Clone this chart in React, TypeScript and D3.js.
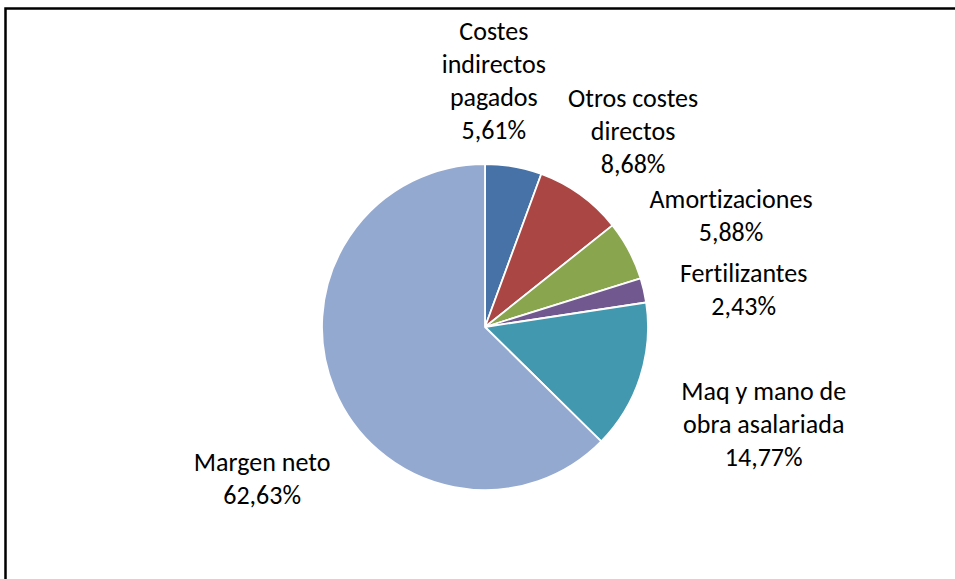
import React, { useEffect, useRef } from "react"
import * as d3 from "d3"

// data
const categories = [
  "Costes\nindirectos\npagados",
  "Otros costes\ndirectos",
  "Amortizaciones",
  "Fertilizantes",
  "Maq y mano de\nobra asalariada",
  "Margen neto",
]
const shares = [5.61, 8.68, 5.88, 2.43, 14.77, 62.63]
const colors = ["#4672A8", "#AA4643", "#89A54E", "#71588F", "#4198AF", "#94A9D0"]

// label nudges (Excel-ish placement tweaks)
const nudges: [number, number][] = [
  [-35, 3],
  [-5, -4],
  [2, -8],
  [5, 12],
  [15, 24],
  [21, 66],
]

const width = 955
const height = 579

export default function App() {
  const ref = useRef<SVGSVGElement>(null)

  useEffect(() => {
    const svg = d3.select(ref.current)
    svg.selectAll("*").remove()

    const cx = 485
    const cy = 327
    const radius = 163
    const lineH = 33
    const gap = 25

    // frame (only top and left edges visible)
    svg.append("path")
      .attr("d", `M5.5,${height} V8.5 H${width}`)
      .attr("fill", "none")
      .attr("stroke", "#000")
      .attr("stroke-width", 2.5)

    const pie = d3.pie<number>().sort(null).value(d => d)
    const arcs = pie(shares)
    const arc = d3.arc<d3.PieArcDatum<number>>().innerRadius(0).outerRadius(radius)

    const g = svg.append("g").attr("transform", `translate(${cx},${cy})`)

    g.selectAll("path.slice")
      .data(arcs)
      .enter()
      .append("path")
      .attr("class", "slice")
      .attr("d", arc)
      .attr("fill", (d, i) => colors[i])
      .attr("stroke", "#fff")
      .attr("stroke-width", 1.8)
      .attr("stroke-linejoin", "round")

    const locale = d3.formatLocale({ decimal: ",", thousands: ".", grouping: [3], currency: ["", "€"] })
    const fmt = locale.format(".2f")

    const labels = g.selectAll("g.label")
      .data(arcs)
      .enter()
      .append("g")
      .attr("class", "label")

    labels.each(function (d, i) {
      const lines = categories[i].split("\n").concat(fmt(shares[i]) + "%")
      const grp = d3.select(this)
      const t = grp.append("text")
        .attr("text-anchor", "middle")
        .attr("font-family", "Carlito, 'Open Sans', sans-serif")
        .attr("font-size", 26)
        .style("font-variant-ligatures", "none")
        .attr("fill", "#000")
      lines.forEach((ln, k) => {
        t.append("tspan")
          .attr("x", 0)
          .attr("y", k * lineH)
          .attr("dy", "0.35em")
          .text(ln)
      })
      const w = 0.9 * (t.node() as SVGTextElement).getBBox().width + 30
      const h = lines.length * lineH
      const mid = (d.startAngle + d.endAngle) / 2
      const s = Math.sin(mid)
      const c = Math.cos(mid)
      const px = s * (radius + gap) + s * w / 2 + nudges[i][0]
      const py = -c * (radius + gap) - c * h / 2 + nudges[i][1]
      const top = py - (h - lineH) / 2
      grp.attr("transform", `translate(${px},${top})`)
    })
  }, [])

  return (
    <svg
      ref={ref}
      width={width}
      height={height}
      style={{ position: "fixed", left: 0, top: 0, background: "#fff" }}
    />
  )
}
